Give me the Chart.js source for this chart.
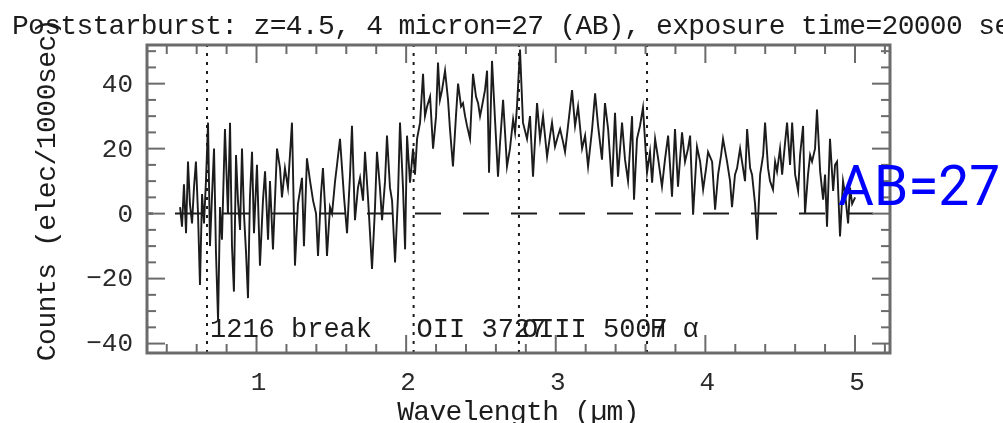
<!DOCTYPE html>
<html>
<head>
<meta charset="utf-8">
<title>Poststarburst spectrum</title>
<script src="https://cdn.jsdelivr.net/npm/chart.js@4.4.1/dist/chart.umd.min.js"></script>
<style>
  html, body { margin: 0; padding: 0; background: #fff; }
  #wrap { position: relative; width: 1003px; height: 423px; }
</style>
</head>
<body>
<div id="wrap"><canvas id="spec"></canvas></div>
<script>
/* ─── data ─── */
const TITLE = 'Poststarburst: z=4.5, 4 micron=27 (AB), exposure time=20000 sec';
const X_LABEL = 'Wavelength (\u00b5m)';
const Y_LABEL = 'Counts (elec/1000sec)';

const WAVELENGTH = [
  0.489, 0.502, 0.515, 0.529, 0.542, 0.555, 0.569, 0.582, 0.595, 0.609,
  0.622, 0.636, 0.649, 0.662, 0.676, 0.689, 0.702, 0.716, 0.729, 0.743,
  0.756, 0.769, 0.789, 0.809, 0.823, 0.836, 0.849, 0.863, 0.876, 0.890,
  0.903, 0.916, 0.930, 0.943, 0.956, 0.970, 0.983, 1.003, 1.023, 1.043,
  1.057, 1.077, 1.090, 1.110, 1.137, 1.157, 1.170, 1.190, 1.210, 1.237,
  1.257, 1.277, 1.304, 1.317, 1.337, 1.358, 1.378, 1.398, 1.411, 1.431,
  1.444, 1.458, 1.471, 1.491, 1.505, 1.525, 1.538, 1.558, 1.585, 1.605,
  1.625, 1.638, 1.658, 1.678, 1.692, 1.712, 1.725, 1.745, 1.772, 1.792,
  1.805, 1.825, 1.839, 1.859, 1.872, 1.892, 1.906, 1.926, 1.946, 1.959,
  1.979, 1.993, 2.006, 2.026, 2.046, 2.059, 2.073, 2.093, 2.113, 2.126,
  2.140, 2.160, 2.180, 2.200, 2.213, 2.226, 2.240, 2.260, 2.280, 2.293,
  2.313, 2.333, 2.347, 2.367, 2.380, 2.394, 2.407, 2.427, 2.447, 2.467,
  2.481, 2.494, 2.507, 2.527, 2.541, 2.554, 2.574, 2.594, 2.614, 2.628,
  2.648, 2.661, 2.674, 2.694, 2.715, 2.728, 2.741, 2.761, 2.781, 2.808,
  2.828, 2.848, 2.875, 2.895, 2.915, 2.942, 2.962, 2.975, 2.995, 3.015,
  3.029, 3.049, 3.062, 3.082, 3.109, 3.129, 3.149, 3.176, 3.196, 3.216,
  3.243, 3.263, 3.283, 3.309, 3.329, 3.350, 3.376, 3.396, 3.416, 3.443,
  3.463, 3.483, 3.510, 3.523, 3.543, 3.563, 3.583, 3.610, 3.630, 3.644,
  3.664, 3.684, 3.710, 3.730, 3.751, 3.777, 3.797, 3.817, 3.844, 3.864,
  3.884, 3.898, 3.918, 3.944, 3.965, 3.985, 4.005, 4.018, 4.045, 4.065,
  4.085, 4.105, 4.118, 4.145, 4.165, 4.178, 4.198, 4.212, 4.232, 4.245,
  4.265, 4.279, 4.299, 4.312, 4.332, 4.346, 4.366, 4.386, 4.399, 4.419,
  4.432, 4.452, 4.466, 4.479, 4.499, 4.513, 4.533, 4.546, 4.566, 4.580,
  4.600, 4.620, 4.633, 4.653, 4.666, 4.686, 4.700, 4.713, 4.733, 4.746,
  4.767, 4.787, 4.800, 4.813, 4.833, 4.854, 4.867, 4.880, 4.900, 4.920,
  4.934, 4.954, 4.967, 4.981, 5.001,
];

const COUNTS = [
  2, -4, 9, -6, 16, 3, -3, 8, 16, 0,
  -22, 6, -3, 10, 28, -10, 5, 20, -12, -33,
  2, -8, 26, 0, 28, -10, -24, 18, 4, -5,
  20, 0, -12, -26, 5, 19, -6, 15, -16, 4,
  13, -8, 10, -11, 20, 14, 5, 14, 8, 28,
  -16, 3, 11, -10, 17, 10, 4, 0, -13, 6,
  14, 2, -13, 2, 0, 10, 15, 23, 5, -6,
  12, 27, -2, 8, 11, 4, 19, 5, -17, 2,
  19, 8, -2, 10, 24, 8, 4, -15, 6, 28,
  8, -11, 24, 9.5, 20, 12, 23, 28, 43, 30,
  33, 36, 20, 30, 46.5, 35, 38, 44, 35, 26,
  14.5, 30, 40, 33, 34, 30, 27, 23, 43, 36,
  34, 30, 33, 38, 44, 12.6, 47, 29, 11.4, 22,
  35, 25, 14.5, 20, 29, 25, 33, 50.5, 28, 23,
  30, 11.4, 34, 23, 30, 17.5, 24, 28, 20.6, 24,
  26, 22, 19, 27, 38, 27, 33, 20, 24, 14.5,
  26, 37, 27, 16.6, 34, 26, 8.3, 31, 11.4, 28,
  16.6, 10, 30, 4.3, 23, 27, 32.6, 12.6, 19, 9.5,
  23, 17, 8.3, 16.6, 24, 5.2, 26, 8.3, 25, 16,
  20, 24, -0.3, 20.6, 16, 7.4, 14, 19, 16, 1.2,
  12, 18, 23, 16, 10, 2, 12, 14, 20, 16,
  10, 26, 14, 12, 3, -8, 12, 18, 28, 14,
  10, 7.4, 16, 13, 20, 12, 22, 28, 15, 28,
  12, 7, 18, 27, 0, 12, 18, 16, 20, 32,
  13, 4.3, 12, -4, 23, 7, 15, 16, -7, 10,
  6, -3, 8, 3, 5,
];

/* rest-frame lines redshifted to z=4.5 */
const LINE_POS    = [0.669, 2.050, 2.754, 3.610];
const LINE_LABELS = ['1216 break', 'OII 3727', 'OIII 5007', 'H \u03b1'];

const X_TICKS = [1, 2, 3, 4, 5];
const Y_TICKS = [-40, -20, 0, 20, 40];
const Y_TICK_LABELS = ['\u221240', '\u221220', '0', '20', '40'];

const X_MIN = 0.268, X_MAX = 5.234;
const Y_MIN = -42.9, Y_MAX = 51.9;

/* ─── style ─── */
const INK   = '#1c1c1c';
const FRAME = '#6b6b6b';
const MONO  = '"Liberation Mono", "DejaVu Sans Mono", monospace';

function seg(ctx, x1, y1, x2, y2) {
  ctx.beginPath();
  ctx.moveTo(x1, y1);
  ctx.lineTo(x2, y2);
  ctx.stroke();
}

/* Dashed zero level, under the spectrum */
const zeroPlugin = {
  id: 'zero',
  beforeDatasetsDraw(chart) {
    const { ctx, chartArea: a, scales: { y } } = chart;
    const py = y.getPixelForValue(0);
    ctx.save();
    ctx.strokeStyle = INK;
    ctx.lineWidth = 2;
    ctx.setLineDash([26, 22]);
    ctx.lineDashOffset = 20;
    seg(ctx, a.left, py, a.right, py);
    ctx.restore();
  },
};

/* Frame with inward ticks on all four sides, plus all the text */
const framePlugin = {
  id: 'frame',
  afterDraw(chart) {
    const { ctx, chartArea: a, scales: { x, y } } = chart;
    ctx.save();
    ctx.setLineDash([]);

    // ticks
    ctx.strokeStyle = FRAME;
    ctx.lineWidth = 2;
    for (let v = -40; v <= 50; v += 5) {
      const py = y.getPixelForValue(v);
      const len = v % 20 === 0 ? 18 : 9;
      seg(ctx, a.left, py, a.left + len, py);
      seg(ctx, a.right, py, a.right - len, py);
    }
    for (let k = 2; k <= 26; k++) {
      const px = x.getPixelForValue(k / 5);
      const len = k % 5 === 0 ? 18 : 9;
      seg(ctx, px, a.bottom, px, a.bottom - len);
      seg(ctx, px, a.top, px, a.top + len);
    }

    // box
    ctx.lineWidth = 3;
    ctx.strokeRect(a.left, a.top, a.right - a.left, a.bottom - a.top);

    // tick labels
    ctx.fillStyle = '#2a2a2a';
    ctx.font = `26px ${MONO}`;
    ctx.textAlign = 'right';
    ctx.textBaseline = 'middle';
    Y_TICKS.forEach((v, i) => ctx.fillText(Y_TICK_LABELS[i], 133, y.getPixelForValue(v) + 1));
    ctx.textAlign = 'center';
    ctx.textBaseline = 'alphabetic';
    X_TICKS.forEach(v => ctx.fillText(String(v), x.getPixelForValue(v) + 2, 390));

    // line labels
    ctx.fillStyle = INK;
    ctx.font = `27px ${MONO}`;
    ctx.textAlign = 'left';
    LINE_POS.forEach((v, i) => ctx.fillText(LINE_LABELS[i], x.getPixelForValue(v) + 3, y.getPixelForValue(-38)));

    // title and axis titles
    ctx.font = `28px ${MONO}`;
    ctx.letterSpacing = '-0.7px';
    ctx.fillText(TITLE, 12, 34);
    ctx.textAlign = 'center';
    ctx.fillText(X_LABEL, 518, 420);
    ctx.save();
    ctx.translate(55, 190);
    ctx.rotate(-Math.PI / 2);
    ctx.letterSpacing = '-0.5px';
    ctx.fillText(Y_LABEL, 0, 0);
    ctx.restore();
    ctx.letterSpacing = '0px';

    // magnitude tag
    ctx.fillStyle = '#0000ff';
    ctx.font = '55px Roboto';
    ctx.textAlign = 'left';
    ctx.fillText('AB=27', 838, 205);

    ctx.restore();
  },
};

const spectrum = WAVELENGTH.map((w, i) => ({ x: w, y: COUNTS[i] }));

const datasets = [
  {
    data: spectrum,
    borderColor: INK,
    borderWidth: 1.9,
    pointRadius: 0,
    order: 0,
  },
  ...LINE_POS.map(v => ({
    data: [{ x: v, y: Y_MIN }, { x: v, y: Y_MAX }],
    borderColor: INK,
    borderWidth: 2,
    borderDash: [3, 6],
    pointRadius: 0,
    order: 1,
  })),
];

new Chart(document.getElementById('spec'), {
  type: 'line',
  data: { datasets },
  options: {
    responsive: true,
    maintainAspectRatio: false,
    animation: false,
    layout: { padding: { left: 147, right: 113, top: 45, bottom: 70 } },
    plugins: { legend: { display: false }, tooltip: { enabled: false } },
    scales: {
      x: { type: 'linear', min: X_MIN, max: X_MAX, display: false },
      y: { type: 'linear', min: Y_MIN, max: Y_MAX, display: false },
    },
  },
  plugins: [zeroPlugin, framePlugin],
});
</script>
</body>
</html>
